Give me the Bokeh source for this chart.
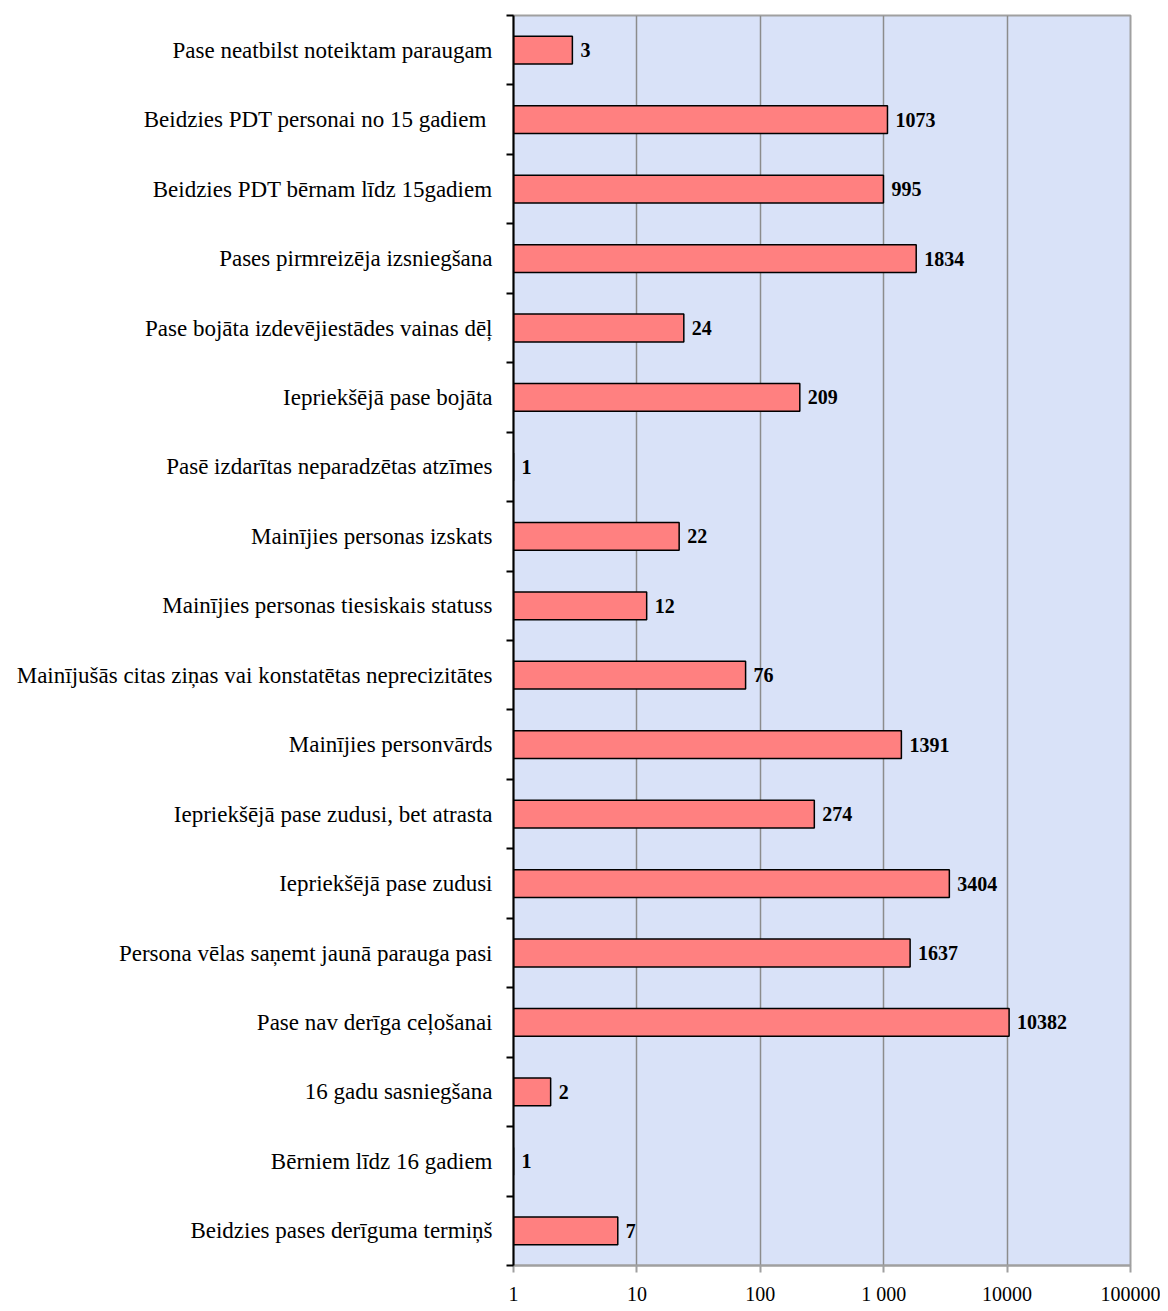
from bokeh.plotting import figure
from bokeh.models import Range1d, FixedTicker, ColumnDataSource
from bokeh.embed import file_html
from bokeh.resources import INLINE
from bokeh.core.properties import value

categories = [
    "Pase neatbilst noteiktam paraugam",
    "Beidzies PDT personai  no 15 gadiem",
    "Beidzies PDT bērnam līdz 15gadiem",
    "Pases pirmreizēja izsniegšana",
    "Pase bojāta izdevējiestādes vainas dēļ",
    "Iepriekšējā pase bojāta",
    "Pasē izdarītas neparadzētas atzīmes",
    "Mainījies personas izskats",
    "Mainījies personas tiesiskais statuss",
    "Mainījušās citas ziņas vai konstatētas neprecizitātes",
    "Mainījies personvārds",
    "Iepriekšējā pase zudusi, bet atrasta",
    "Iepriekšējā pase zudusi",
    "Persona vēlas saņemt jaunā parauga pasi",
    "Pase nav derīga ceļošanai",
    "16 gadu sasniegšana",
    "Bērniem līdz 16 gadiem",
    "Beidzies pases derīguma termiņš",
]
values = [3, 1073, 995, 1834, 24, 209, 1, 22, 12, 76, 1391, 274, 3404, 1637, 10382, 2, 1, 7]
x_ticks = [1, 10, 100, 1000, 10000, 100000]
x_tick_labels = ["1", "10", "100", "1 000", "10000", "100000"]

n = len(categories)
centers = [i + 0.5 for i in range(n)]
source = ColumnDataSource(dict(
    y=centers,
    left=[1] * n,
    right=values,
    label=[str(v) for v in values],
))

FONT = "Liberation Serif"

p = figure(
    width=1160, height=1307,
    x_axis_type="log",
    x_range=Range1d(1, 100000),
    y_range=Range1d(n, 0),
    output_backend="svg", toolbar_location=None,
    min_border_left=513, min_border_right=30, min_border_top=15,
)
p.background_fill_color = "#D9E2F8"
p.border_fill_color = "white"
p.outline_line_color = "#A0A0A0"
p.outline_line_width = 2

p.hbar(y="y", left="left", right="right", height=0.4, source=source,
       fill_color="#FF8080", line_color="black", line_width=1.5)
p.text(x="right", y="y", text="label", source=source, x_offset=8,
       text_baseline="middle", text_align="left",
       text_font=value(FONT), text_font_style="bold", text_font_size="20px",
       text_color="black")

# x axis
xa = p.xaxis[0]
xa.ticker = FixedTicker(ticks=x_ticks)
xa.major_label_overrides = {t: l for t, l in zip(x_ticks, x_tick_labels)}
xa.major_label_text_font = FONT
xa.major_label_text_font_size = "20px"
xa.major_label_text_color = "black"
xa.major_label_standoff = 10
xa.axis_line_color = "#A0A0A0"
xa.axis_line_width = 2
xa.major_tick_line_color = "#A0A0A0"
xa.major_tick_line_width = 2
xa.major_tick_out = 7
xa.major_tick_in = 0
xa.minor_tick_line_color = None

# y axis
ya = p.yaxis[0]
ya.ticker = FixedTicker(ticks=centers, minor_ticks=list(range(n + 1)))
ya.major_label_overrides = {c: cat for c, cat in zip(centers, categories)}
ya.major_label_text_font = FONT
ya.major_label_text_font_size = "23px"
ya.major_label_text_color = "black"
ya.major_label_standoff = 14
ya.major_tick_line_color = None
ya.minor_tick_line_color = "black"
ya.minor_tick_line_width = 2
ya.minor_tick_out = 7
ya.minor_tick_in = 0
ya.axis_line_color = "black"
ya.axis_line_width = 2

p.xgrid.grid_line_color = "#8C8C8C"
p.xgrid.grid_line_width = 1.5
p.xgrid.ticker = FixedTicker(ticks=x_ticks)
p.ygrid.grid_line_color = None

open("out.html", "w").write(file_html(p, INLINE))
